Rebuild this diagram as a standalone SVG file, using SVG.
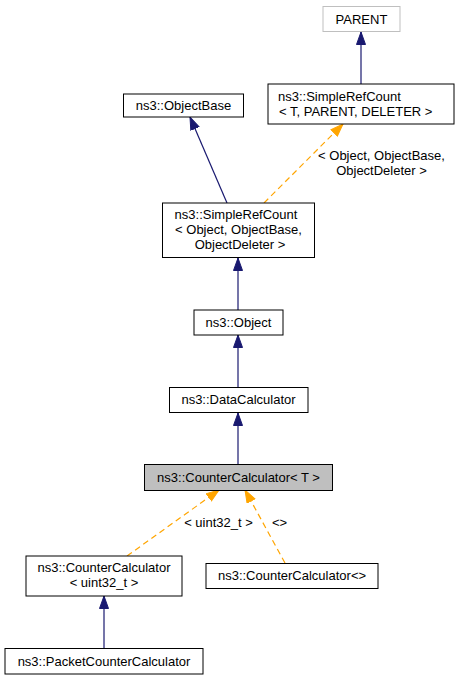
<svg xmlns="http://www.w3.org/2000/svg" width="460" height="680" viewBox="0 0 460 680">
<style>
.n{fill:#ffffff;stroke:#000000;stroke-width:1}
.g{fill:#bfbfbf;stroke:#000000;stroke-width:1}
.p{fill:#ffffff;stroke:#bfbfbf;stroke-width:1}
text{font-family:"Liberation Sans",Arial,sans-serif;font-size:13px;fill:#000000}
.c{text-anchor:middle}
.e{fill:none;stroke:#191970;stroke-width:1.2}
.d{fill:none;stroke:#ffa500;stroke-width:1.2;stroke-dasharray:6,4}
</style>
<defs>
<marker id="ab" markerUnits="userSpaceOnUse" markerWidth="14" markerHeight="12" refX="13" refY="5" orient="auto">
<path d="M0.5,0.5 L13,5 L0.5,9.5 z" fill="#191970" stroke="#191970" stroke-width="1"/>
</marker>
<marker id="ao" markerUnits="userSpaceOnUse" markerWidth="14" markerHeight="12" refX="13" refY="5" orient="auto">
<path d="M0.5,0.5 L13,5 L0.5,9.5 z" fill="#ffa500" stroke="#ffa500" stroke-width="1"/>
</marker>
</defs>
<g id="connectors">
<path class="e" d="M361,84 L361,32" marker-end="url(#ab)"/>
<path class="e" d="M227,203 L190,117" marker-end="url(#ab)"/>
<path class="d" d="M264,203 L343,124" marker-end="url(#ao)"/>
<text class="c" x="381.5" y="160">&lt; Object, ObjectBase,</text>
<text class="c" x="381.5" y="175">ObjectDeleter &gt;</text>
<path class="e" d="M238,310 L238,258" marker-end="url(#ab)"/>
<path class="e" d="M238,387 L238,335" marker-end="url(#ab)"/>
<path class="e" d="M238,464 L238,413" marker-end="url(#ab)"/>
<path class="d" d="M127,556 L219,490" marker-end="url(#ao)"/>
<text class="c" x="218.5" y="527">&lt; uint32_t &gt;</text>
<path class="d" d="M285,563 L245,490" marker-end="url(#ao)"/>
<text class="c" x="279.5" y="527">&lt;&gt;</text>
<path class="e" d="M104,648 L104,596" marker-end="url(#ab)"/>
</g>
<g id="node_parent">
<rect class="p" x="323" y="6.5" width="77" height="25"/>
<text class="c" x="361.5" y="23.5">PARENT</text>
</g>
<g id="node_simplerefcount_t">
<rect class="n" x="268" y="84" width="186" height="40"/>
<text x="278" y="100.5">ns3::SimpleRefCount</text>
<text x="279" y="115.5">&lt; T, PARENT, DELETER &gt;</text>
</g>
<g id="node_objectbase">
<rect class="n" x="123.5" y="94" width="120" height="23"/>
<text class="c" x="183.5" y="110">ns3::ObjectBase</text>
</g>
<g id="node_simplerefcount_object">
<rect class="n" x="162.5" y="203" width="152" height="54.5"/>
<text class="c" x="236" y="219">ns3::SimpleRefCount</text>
<text class="c" x="238.5" y="234">&lt; Object, ObjectBase,</text>
<text class="c" x="240" y="249">ObjectDeleter &gt;</text>
</g>
<g id="node_object">
<rect class="n" x="194" y="310" width="89" height="25"/>
<text class="c" x="238.5" y="326.5">ns3::Object</text>
</g>
<g id="node_datacalculator">
<rect class="n" x="169.5" y="387.5" width="138.5" height="25"/>
<text class="c" x="238.5" y="404">ns3::DataCalculator</text>
</g>
<g id="node_countercalculator_t">
<rect class="g" x="144.5" y="464.5" width="188" height="26"/>
<text class="c" x="238.5" y="481.5">ns3::CounterCalculator&lt; T &gt;</text>
</g>
<g id="node_countercalculator_uint32">
<rect class="n" x="26" y="556" width="156" height="40"/>
<text class="c" x="104" y="572">ns3::CounterCalculator</text>
<text class="c" x="104" y="587">&lt; uint32_t &gt;</text>
</g>
<g id="node_countercalculator_empty">
<rect class="n" x="206" y="563.5" width="172" height="25"/>
<text class="c" x="292" y="580">ns3::CounterCalculator&lt;&gt;</text>
</g>
<g id="node_packetcountercalculator">
<rect class="n" x="5" y="648.5" width="198" height="25.5"/>
<text class="c" x="104" y="665.5">ns3::PacketCounterCalculator</text>
</g>
</svg>
